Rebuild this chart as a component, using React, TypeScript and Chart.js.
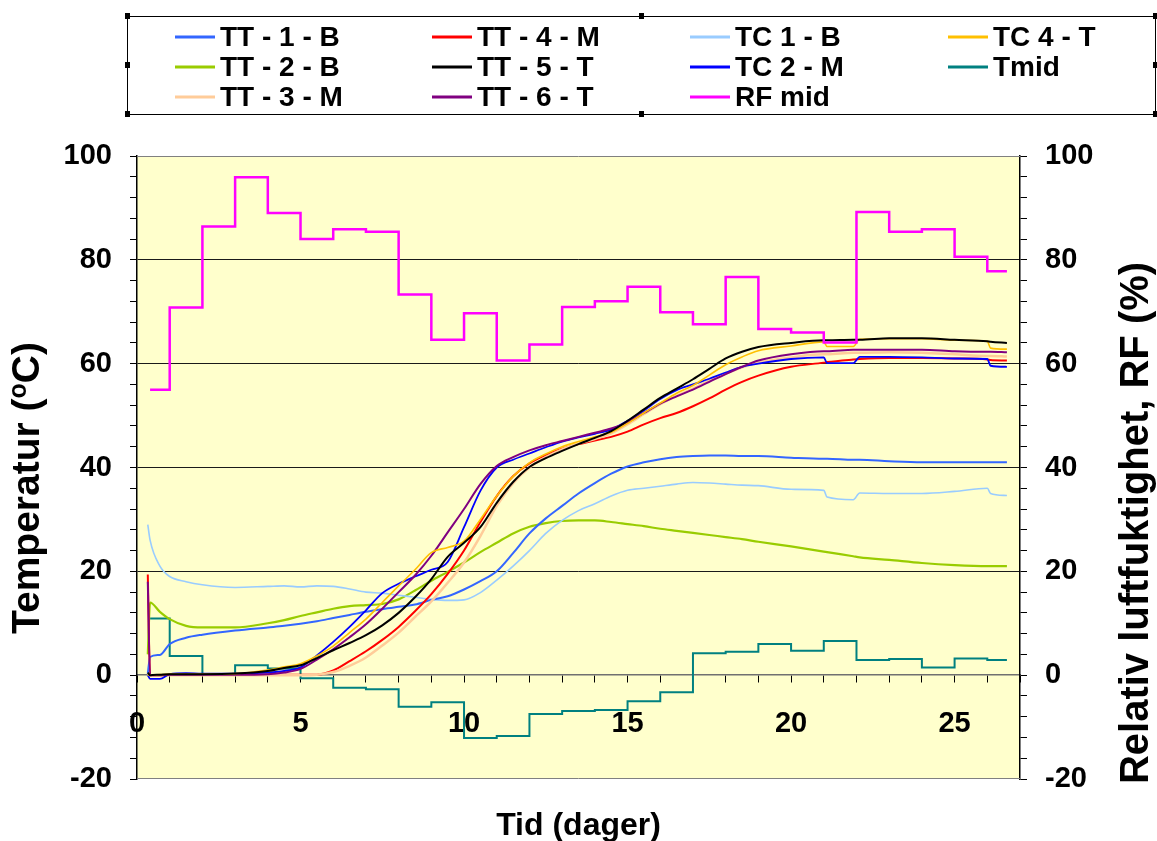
import React, { useEffect, useRef } from 'react';
import { Chart, registerables } from 'chart.js';

Chart.register(...registerables);

const FONT = '"Liberation Sans", Arial, sans-serif';

// Time axis (days) shared by the temperature curves
const tDays = [0.33, 0.4, 0.7, 1, 1.5, 2, 3, 4, 4.5, 5, 5.5, 6, 6.5, 7, 7.5, 8, 8.5, 9, 9.5, 10, 10.5, 11, 11.5, 12, 12.5, 13, 13.5, 14, 14.5, 15, 15.5, 16, 16.5, 17, 17.5, 18, 18.5, 19, 20, 21, 21.1, 21.9, 22.1, 23, 24, 25, 26, 26.1, 26.6];

// Temperatures (°C)
const tt1B = [0.3, 3.5, 3.9, 6.0, 7.2, 7.8, 8.6, 9.2, 9.5, 9.9, 10.4, 11.0, 11.6, 12.2, 12.7, 13.2, 13.6, 14.5, 15.2, 16.5, 18.1, 20.0, 23.5, 27.3, 30.2, 32.6, 35.0, 37.0, 38.8, 40.2, 41.0, 41.6, 42.0, 42.2, 42.3, 42.3, 42.2, 42.2, 41.9, 41.7, 41.7, 41.5, 41.5, 41.2, 41.0, 41.0, 41.0, 41.0, 41.0];
const tt2B = [4, 14, 12.2, 10.8, 9.5, 9.2, 9.2, 10.0, 10.6, 11.4, 12.1, 12.8, 13.3, 13.5, 13.7, 14.6, 16.3, 18.2, 19.9, 21.7, 23.7, 25.5, 27.3, 28.6, 29.3, 29.7, 29.8, 29.8, 29.5, 29.1, 28.7, 28.2, 27.8, 27.4, 27.0, 26.6, 26.2, 25.7, 24.8, 23.8, 23.7, 22.9, 22.7, 22.2, 21.6, 21.2, 21.0, 21.0, 21.0];
const tt3M = [0.3, 0, 0, 0, 0, 0, 0, 0, 0, 0, 0.1, 0.6, 1.8, 3.4, 5.7, 8.2, 11.2, 14.2, 17.8, 21.7, 26.8, 32.6, 37.0, 40.0, 42.0, 43.5, 44.6, 45.5, 46.6, 48.3, 50.3, 52.2, 53.8, 55.2, 56.7, 58.1, 59.3, 60.2, 61.2, 61.8, 61.8, 62.1, 62.1, 62.2, 62.1, 61.8, 61.5, 61.5, 61.4];
const tt4M = [19.4, 0, 0, 0.1, 0.1, 0.1, 0.1, 0.1, 0.1, 0.1, 0.1, 0.9, 2.7, 4.6, 6.8, 9.3, 12.3, 15.6, 19.5, 24.0, 29.5, 34.5, 38.3, 40.8, 42.4, 43.6, 44.5, 45.2, 45.9, 46.9, 48.3, 49.5, 50.5, 51.8, 53.3, 55.0, 56.5, 57.7, 59.4, 60.2, 60.3, 60.8, 60.9, 61.1, 61.1, 61.0, 60.8, 60.7, 60.6];
const tt5T = [0.5, 0, 0.1, 0.2, 0.2, 0.2, 0.3, 0.8, 1.4, 1.9, 3.3, 4.8, 6.2, 7.7, 9.6, 12.0, 15.0, 18.5, 22.8, 25.5, 28.5, 33.2, 37.2, 40.1, 41.8, 43.2, 44.5, 45.7, 47.0, 49.0, 51.2, 53.4, 55.2, 57.0, 59.0, 61.0, 62.3, 63.2, 64.0, 64.5, 64.5, 64.6, 64.6, 64.9, 64.9, 64.6, 64.3, 64.2, 64.0];
const tt6T = [18, 0, 0, 0.1, 0.1, 0.1, 0.1, 0.2, 0.5, 1.2, 3.0, 5.0, 7.3, 9.8, 12.8, 16.0, 19.2, 23.0, 27.5, 32.0, 36.8, 40.3, 42.0, 43.3, 44.3, 45.1, 45.9, 46.7, 47.5, 48.7, 50.5, 52.3, 53.7, 55.0, 56.5, 58.0, 59.4, 60.6, 61.8, 62.4, 62.4, 62.7, 62.7, 62.7, 62.7, 62.4, 62.3, 62.3, 62.2];
const tc1B = [29, 26, 21, 19.0, 18.0, 17.4, 16.9, 17.1, 17.2, 17.0, 17.2, 17.1, 16.6, 16.0, 15.8, 15.4, 15.0, 14.6, 14.4, 14.5, 15.9, 18.3, 21.0, 24.0, 27.3, 29.8, 31.7, 33.0, 34.5, 35.6, 36.0, 36.4, 36.8, 37.1, 37.0, 36.8, 36.6, 36.5, 35.8, 35.6, 34.3, 33.8, 35.1, 35.0, 35.0, 35.4, 36.0, 35.0, 34.6];
const tc2M = [0, -0.7, -0.7, 0.2, 0.4, 0.3, 0.3, 0.5, 0.8, 1.5, 3.8, 6.4, 9.3, 12.5, 15.8, 17.6, 19.0, 20.3, 21.8, 28.5, 35.5, 40.0, 41.5, 42.7, 43.9, 45.0, 45.8, 46.5, 47.3, 49.0, 51.0, 53.2, 54.9, 56.0, 57.1, 58.3, 59.4, 60.0, 60.9, 61.2, 60.1, 60.1, 61.3, 61.3, 61.2, 61.0, 60.9, 59.6, 59.4];
const tc4T = [0, 0, 0.1, 0.2, 0.2, 0.2, 0.3, 1.0, 1.6, 2.2, 3.7, 5.6, 8.2, 10.8, 14.0, 17.2, 20.3, 23.6, 24.6, 25.8, 30.0, 34.5, 38.3, 40.9, 42.6, 44.0, 45.0, 45.9, 46.8, 48.5, 50.5, 52.4, 54.3, 55.8, 57.8, 59.8, 61.3, 62.5, 63.4, 64.2, 63.3, 63.3, 64.7, 64.8, 64.8, 64.5, 64.3, 63.0, 62.8];

// Daily means: each value holds from its day until the next one
const stepDays = [0.4, 1, 2, 3, 4, 5, 6, 7, 8, 9, 10, 11, 12, 13, 14, 15, 16, 17, 18, 19, 20, 21, 22, 23, 24, 25, 26, 26.6];
const tMid = [10.9, 3.7, 0.2, 1.9, 1.3, -0.6, -2.4, -2.7, -6.1, -5.2, -12.1, -11.7, -7.5, -6.9, -6.7, -5.0, -3.3, 4.2, 4.5, 6.0, 4.7, 6.6, 2.9, 3.1, 1.5, 3.2, 2.9, 2.9];
const rfMid = [55, 70.8, 86.4, 95.9, 89.0, 84.0, 85.9, 85.4, 73.3, 64.6, 69.7, 60.6, 63.7, 70.9, 72.0, 74.8, 69.9, 67.6, 76.7, 66.7, 66.0, 64.1, 89.2, 85.4, 85.9, 80.6, 77.8, 77.8];

// Axis ticks
const xLabelDays = [0, 5, 10, 15, 20, 25];
const yLabelValues = [-20, 0, 20, 40, 60, 80, 100];
const yGridValues = [20, 40, 60, 80];

// Legend grid: rows of labels, read left to right
const legendRows = [
  ['TT - 1 - B', 'TT - 4 - M', 'TC 1 - B', 'TC 4 - T'],
  ['TT - 2 - B', 'TT - 5 - T', 'TC 2 - M', 'Tmid'],
  ['TT - 3 - M', 'TT - 6 - T', 'RF mid'],
];

const pts = (xs: number[], ys: number[]) => xs.map((x, i) => ({ x, y: ys[i] }));

const tickFont = { family: FONT, size: 29, weight: 'bold' as const };

const decorPlugin = {
  id: 'decor',
  beforeDraw(chart: any) {
    const { ctx, chartArea: a } = chart;
    ctx.save();
    ctx.fillStyle = '#ffffff';
    ctx.fillRect(0, 0, chart.width, chart.height);
    ctx.fillStyle = '#FFFFCC';
    ctx.fillRect(a.left, a.top, a.right - a.left, a.bottom - a.top);
    ctx.restore();
  },
  afterDraw(chart: any) {
    const { ctx, chartArea: a } = chart;
    ctx.save();
    // plot area frame (top / bottom)
    ctx.strokeStyle = '#808080';
    ctx.lineWidth = 1;
    ctx.beginPath();
    ctx.moveTo(a.left, a.top + 0.5);
    ctx.lineTo(a.right, a.top + 0.5);
    ctx.moveTo(a.left, a.bottom - 0.5);
    ctx.lineTo(a.right, a.bottom - 0.5);
    ctx.stroke();

    // legend box
    const bx = 127, by = 16, bw = 1028, bh = 98;
    ctx.fillStyle = '#ffffff';
    ctx.fillRect(bx, by, bw, bh);
    ctx.strokeStyle = '#000000';
    ctx.strokeRect(bx + 0.5, by + 0.5, bw, bh);
    ctx.fillStyle = '#000000';
    const hx = [bx, bx + bw / 2, bx + bw];
    const hy = [by, by + bh / 2, by + bh];
    hx.forEach((x, i) => hy.forEach((y, j) => {
      if (i === 1 && j === 1) return;
      ctx.fillRect(Math.round(x) - 2, Math.round(y) - 3, 5, 6);
    }));
    const colX = [175, 432, 690, 948];
    const rowY = [37, 67, 97];
    ctx.font = `bold 28px ${FONT}`;
    ctx.textBaseline = 'middle';
    ctx.textAlign = 'left';
    legendRows.forEach((row, r) => row.forEach((label, c) => {
      const ds = chart.data.datasets.find((d: any) => d.label === label);
      if (!ds) return;
      const x = colX[c], y = rowY[r];
      ctx.strokeStyle = ds.borderColor;
      ctx.lineWidth = 3;
      ctx.beginPath();
      ctx.moveTo(x, y);
      ctx.lineTo(x + 40, y);
      ctx.stroke();
      ctx.fillStyle = '#000000';
      ctx.fillText(label, x + 45, y + 1);
    }));

    // axis titles
    ctx.fillStyle = '#000000';
    ctx.textBaseline = 'middle';
    // left: Temperatur (°C) with a raised small "o"
    ctx.save();
    ctx.translate(28, 488);
    ctx.rotate(-Math.PI / 2);
    const big = `bold 39px ${FONT}`, small = `bold 25px ${FONT}`;
    const p1 = 'Temperatur (', p2 = 'o', p3 = 'C)';
    ctx.font = big; const w1 = ctx.measureText(p1).width; const w3 = ctx.measureText(p3).width;
    ctx.font = small; const w2 = ctx.measureText(p2).width;
    let cx = -(w1 + w2 + w3) / 2;
    ctx.textAlign = 'left';
    ctx.font = big; ctx.fillText(p1, cx, 0); cx += w1;
    ctx.font = small; ctx.fillText(p2, cx, -9); cx += w2;
    ctx.font = big; ctx.fillText(p3, cx, 0);
    ctx.restore();

    ctx.save();
    ctx.translate(1137, 523);
    ctx.rotate(-Math.PI / 2);
    ctx.textAlign = 'center';
    ctx.font = `bold 40px ${FONT}`;
    ctx.fillText('Relativ luftfuktighet, RF (%)', 0, 0);
    ctx.restore();

    ctx.textAlign = 'center';
    ctx.font = `bold 32px ${FONT}`;
    ctx.fillText('Tid (dager)', (a.left + a.right) / 2, 826);
    ctx.restore();
  },
};

export default function App() {
  const ref = useRef<HTMLCanvasElement>(null);
  useEffect(() => {
    if (!ref.current) return;
    const temp = (label: string, ys: number[], color: string, width = 2) => ({
      label, data: pts(tDays, ys), borderColor: color, backgroundColor: color,
      borderWidth: width, yAxisID: 'y', cubicInterpolationMode: 'monotone' as const,
    });
    const chart = new Chart(ref.current, {
      type: 'line',
      data: {
        datasets: [
          { label: 'RF mid', data: pts(stepDays, rfMid), borderColor: '#FF00FF', backgroundColor: '#FF00FF', borderWidth: 2.5, stepped: 'before', yAxisID: 'y2' },
          temp('TT - 5 - T', tt5T, '#000000'),
          temp('TC 4 - T', tc4T, '#FFC000', 1.6),
          temp('TT - 6 - T', tt6T, '#800080'),
          temp('TC 2 - M', tc2M, '#0000FF', 1.8),
          temp('TT - 3 - M', tt3M, '#FFCC99', 2.5),
          temp('TT - 4 - M', tt4M, '#FF0000'),
          temp('TT - 1 - B', tt1B, '#3366FF'),
          temp('TC 1 - B', tc1B, '#99CCFF', 1.6),
          temp('TT - 2 - B', tt2B, '#99CC00', 2.2),
          { label: 'Tmid', data: pts(stepDays, tMid), borderColor: '#008080', backgroundColor: '#008080', borderWidth: 2, stepped: 'before', yAxisID: 'y' },
        ],
      },
      options: {
        responsive: false,
        animation: false,
        devicePixelRatio: 1,
        layout: { padding: { left: 0, right: 0, top: 156, bottom: 62 } },
        elements: { point: { radius: 0 }, line: { tension: 0 } },
        plugins: { legend: { display: false }, tooltip: { enabled: false } },
        scales: {
          x: {
            type: 'linear',
            position: { y: 0 } as any,
            min: 0,
            max: 27,
            ticks: {
              stepSize: 1,
              autoSkip: false,
              maxRotation: 0,
              padding: 24,
              color: '#000',
              font: tickFont,
              callback: (v: any) => (xLabelDays.includes(Number(v)) ? String(v) : ''),
            },
            grid: { drawOnChartArea: false, drawTicks: true, tickLength: 7, tickColor: '#000', color: '#000' },
            border: { color: '#707070', width: 1.5 },
          },
          y: {
            type: 'linear',
            position: 'left',
            min: -20,
            max: 100,
            ticks: {
              stepSize: 4,
              autoSkip: false,
              padding: 18,
              color: '#000',
              font: tickFont,
              callback: (v: any) => (yLabelValues.includes(Number(v)) ? String(v) : ''),
            },
            grid: {
              drawTicks: true,
              tickLength: 7,
              tickColor: '#000',
              color: (c: any) => (c.tick && yGridValues.includes(c.tick.value) ? '#1a1a1a' : 'rgba(0,0,0,0)'),
            },
            border: { color: '#000', width: 1.5 },
            afterFit: (s: any) => { s.width = 137; },
          },
          y2: {
            type: 'linear',
            position: 'right',
            min: -20,
            max: 100,
            ticks: {
              stepSize: 4,
              autoSkip: false,
              padding: 18,
              color: '#000',
              font: tickFont,
              callback: (v: any) => (yLabelValues.includes(Number(v)) ? String(v) : ''),
            },
            grid: { drawOnChartArea: false, drawTicks: true, tickLength: 7, tickColor: '#000' },
            border: { color: '#000', width: 1.5 },
            afterFit: (s: any) => { s.width = 137; },
          },
        },
      },
      plugins: [decorPlugin],
    });
    return () => chart.destroy();
  }, []);

  return (
    <div style={{ position: 'absolute', left: 0, top: 0, width: 1157, height: 841 }}>
      <canvas ref={ref} width={1157} height={841} style={{ display: 'block' }} />
    </div>
  );
}
